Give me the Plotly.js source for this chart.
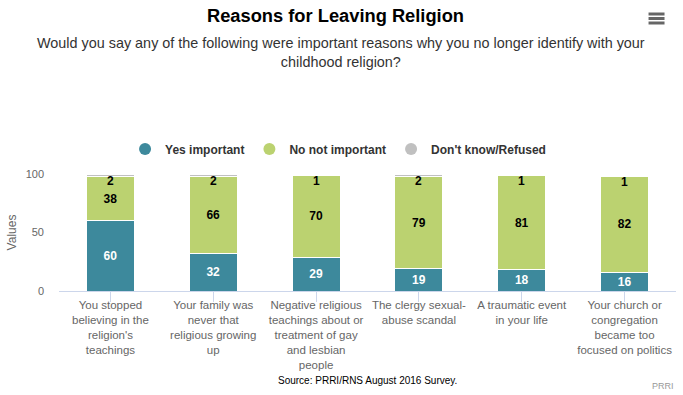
<!DOCTYPE html>
<html>
<head>
<meta charset="utf-8">
<script src="https://cdn.plot.ly/plotly-3.0.1.min.js"></script>
<style>html,body{margin:0;padding:0;background:#fff;}#chart{width:683px;height:395px;}</style>
</head>
<body>
<div id="chart"></div>
<script>
var categories = [
  "You stopped<br>believing in the<br>religion's<br>teachings",
  "Your family was<br>never that<br>religious growing<br>up",
  "Negative religious<br>teachings about or<br>treatment of gay<br>and lesbian<br>people",
  "The clergy sexual-<br>abuse scandal",
  "A traumatic event<br>in your life",
  "Your church or<br>congregation<br>became too<br>focused on politics"
];
var yesImportant = [60, 32, 29, 19, 18, 16];
var noNotImportant = [38, 66, 70, 79, 81, 82];
var dontKnow = [2, 2, 1, 2, 1, 1];
var seriesNames = ["Yes important", "No not important", "Don't know/Refused"];
var colors = ["#3d899c", "#bbd270", "#c0c0c0"];

var idx = categories.map(function(_, i){ return i; });
var font = "Liberation Sans, Arial, Helvetica, sans-serif";

function barTrace(vals, name, color, textColor, showText) {
  return {
    type: "bar", x: idx, y: vals, name: name,
    marker: {color: color, line: {color: "#ffffff", width: 1}},
    width: 0.466,
    text: showText ? vals.map(String) : null,
    textposition: showText ? "inside" : "none",
    insidetextanchor: "middle",
    textangle: 0,
    constraintext: "none",
    textfont: {family: font, size: 12, color: textColor, weight: "bold"},
    hoverinfo: "none",
    showlegend: false
  };
}

var traces = [
  barTrace(yesImportant, seriesNames[0], colors[0], "#ffffff", true),
  barTrace(noNotImportant, seriesNames[1], colors[1], "#000000", true),
  barTrace(dontKnow, seriesNames[2], colors[2], "#000000", false)
];
// legend proxies with circle markers
seriesNames.forEach(function(n, k){
  traces.push({type: "scatter", mode: "markers", x: [null], y: [null], name: n,
    marker: {symbol: "circle", size: 12, color: colors[k]}, showlegend: true, hoverinfo: "none"});
});

var plotW = 683 - 58.5 - 6.5, plotH = 395 - 174 - 104;
function px(x){ return (x - 58.5) / plotW; }
function py(y){ return (395 - 104 - y) / plotH; }

var annotations = idx.map(function(i){
  return {x: i, y: yesImportant[i] + noNotImportant[i] + dontKnow[i], xref: "x", yref: "y",
    text: "<b>" + dontKnow[i] + "</b>", showarrow: false, yanchor: "top", yshift: 2,
    font: {family: font, size: 12, color: "#000000"}};
});
annotations.push({x: px(341), y: py(33), xref: "paper", yref: "paper", yanchor: "top", xanchor: "center", showarrow: false,
  text: "Would you say any of the following were important reasons why you no longer identify with your<br>childhood religion?",
  font: {family: font, size: 14.4, color: "#333333"}});
annotations.push({x: 0.5, y: py(380), xref: "paper", yref: "paper", showarrow: false, xanchor: "center", yanchor: "middle",
  text: "Source: PRRI/RNS August 2016 Survey.", font: {family: font, size: 10, color: "#000000"}});
annotations.push({x: 1, y: py(386), xref: "paper", yref: "paper", showarrow: false, xanchor: "right", yanchor: "middle",
  text: "PRRI", font: {family: font, size: 9, color: "#999999"}});

var layout = {
  width: 683, height: 395,
  margin: {l: 58.5, r: 6.5, t: 174, b: 104, pad: 0},
  paper_bgcolor: "#ffffff", plot_bgcolor: "#ffffff",
  barmode: "stack",
  title: {text: "<b>Reasons for Leaving Religion</b>", x: 335.5 / 683, xanchor: "center", y: 1 - 16 / 395, yanchor: "middle",
    xref: "container", yref: "container",
    font: {family: font, size: 18.3, color: "#000000"}},
  xaxis: {
    range: [-0.5, 5.5], tickmode: "array", tickvals: idx, ticktext: categories,
    tickson: "boundaries", ticks: "outside", ticklen: 10, tickcolor: "#ccd6eb",
    ticklabelstandoff: -7,
    showline: true, linecolor: "#ccd6eb", linewidth: 1, showgrid: false, zeroline: false,
    tickfont: {family: font, size: 11.5, color: "#666666"}, fixedrange: true
  },
  yaxis: {
    range: [0, 100], tickvals: [0, 50, 100], showgrid: false, zeroline: false, showline: false,
    ticks: "", ticklabelstandoff: 14,
    tickfont: {family: font, size: 11, color: "#666666"},
    title: {text: "Values", font: {family: font, size: 12, color: "#666666"}, standoff: 6}
  },
  legend: {orientation: "h", traceorder: "normal", x: px(338), xanchor: "center", y: 1.214, yanchor: "middle",
    font: {family: font, size: 12, color: "#333333", weight: "bold"}, itemwidth: 30, bgcolor: "rgba(0,0,0,0)"},
  annotations: annotations,
  shapes: [14, 18.5, 23].map(function(yy){
    return {type: "line", xref: "paper", yref: "paper", x0: px(649), x1: px(665), y0: py(yy), y1: py(yy),
      line: {color: "#666666", width: 3}};
  }),
  showlegend: true
};

Plotly.newPlot("chart", traces, layout, {displayModeBar: false, staticPlot: true});
</script>
</body>
</html>
